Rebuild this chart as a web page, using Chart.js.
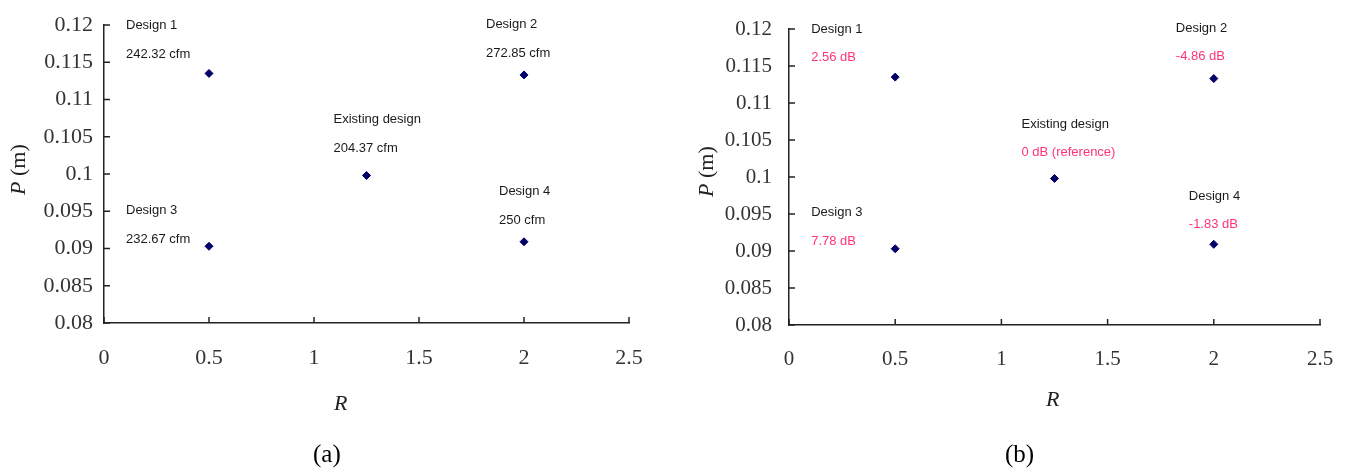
<!DOCTYPE html>
<html><head><meta charset="utf-8">
<script src="https://cdn.jsdelivr.net/npm/chart.js@4/dist/chart.umd.min.js"></script>
<style>
html,body{margin:0;padding:0;background:#fff;}
body{width:1348px;height:473px;position:relative;overflow:hidden;}
.box{position:absolute;top:0;height:473px;}
.t{position:absolute;font-family:"Liberation Serif",serif;color:#222;white-space:nowrap;}
</style></head><body>
<div class="box" style="left:0;width:660px"><canvas id="ca"></canvas></div>
<div class="box" style="left:680px;width:668px"><canvas id="cb"></canvas></div>
<div class="t" style="left:5px;top:195px;font-size:22px;transform:rotate(-90deg);transform-origin:0 0;"><i>P</i> (m)</div>
<div class="t" style="left:693px;top:197px;font-size:22px;transform:rotate(-90deg);transform-origin:0 0;"><i>P</i> (m)</div>
<div class="t" style="left:334px;top:390px;font-size:22px;"><i>R</i></div>
<div class="t" style="left:1046px;top:386px;font-size:22px;"><i>R</i></div>
<div class="t" style="left:313px;top:440px;font-size:25px;color:#000;">(a)</div>
<div class="t" style="left:1005px;top:440px;font-size:25px;color:#000;">(b)</div>
<script>
// ---- data ----
const designNames = ['Design 1', 'Design 2', 'Existing design', 'Design 3', 'Design 4'];
const rValues = [0.5, 2, 1.25, 0.5, 2];
const pValues = [0.1135, 0.1133, 0.0998, 0.0903, 0.0909];
const flowLabels = ['242.32 cfm', '272.85 cfm', '204.37 cfm', '232.67 cfm', '250 cfm'];
const noiseLabels = ['2.56 dB', '-4.86 dB', '0 dB (reference)', '7.78 dB', '-1.83 dB'];
const xTickValues = [0, 0.5, 1, 1.5, 2, 2.5];
const yTickValues = [0.08, 0.085, 0.09, 0.095, 0.1, 0.105, 0.11, 0.115, 0.12];

// label placement offsets relative to each point (pixels): [dx of left edge, dy line1, dy line2]
const offsA = [[-83,-48,-19],[-38,-50,-21],[-33,-56,-27],[-83,-36,-7],[-25,-50,-21]];
const offsB = [[-84,-48,-20],[-38,-50,-22],[-33,-54,-26],[-84,-36,-7],[-25,-48,-20]];

const fmt = v => String(parseFloat(Number(v).toFixed(3)));

function labelPlugin(values, valueColor, offs){
  return {
    id:'lbl',
    afterDatasetsDraw(chart){
      const ctx = chart.ctx;
      const meta = chart.getDatasetMeta(0);
      ctx.save();
      ctx.font = '13px "Liberation Sans", Arial, sans-serif';
      ctx.textAlign = 'left';
      ctx.textBaseline = 'middle';
      meta.data.forEach((pt, i) => {
        const o = offs[i];
        ctx.fillStyle = '#1a1a1a';
        ctx.fillText(designNames[i], pt.x + o[0], pt.y + o[1]);
        ctx.fillStyle = valueColor;
        ctx.fillText(values[i], pt.x + o[0], pt.y + o[2]);
      });
      ctx.restore();
    }
  };
}

const innerTicks = {
  id:'innerTicks',
  afterDraw(chart){
    const ctx = chart.ctx, a = chart.chartArea;
    const xs = chart.scales.x, ys = chart.scales.y;
    ctx.save();
    ctx.strokeStyle = '#222';
    ctx.lineWidth = 1.5;
    ctx.beginPath();
    xs.ticks.forEach(t => { const px = xs.getPixelForValue(t.value); ctx.moveTo(px, a.bottom); ctx.lineTo(px, a.bottom - 6); });
    ys.ticks.forEach(t => { const py = ys.getPixelForValue(t.value); ctx.moveTo(a.left, py); ctx.lineTo(a.left + 6, py); });
    ctx.stroke();
    ctx.restore();
  }
};

function makeChart(id, values, valueColor, offs, yw, xh, pad, fontPx, yPad){
  const pts = rValues.map((r, i) => ({x: r, y: pValues[i]}));
  return new Chart(document.getElementById(id), {
    type:'scatter',
    data:{datasets:[{data: pts, pointStyle:'rectRot', pointRadius:4, pointHoverRadius:4,
      backgroundColor:'#000066', borderColor:'#000066', borderWidth:1}]},
    options:{
      responsive:true, maintainAspectRatio:false, animation:false,
      layout:{padding:pad},
      plugins:{legend:{display:false}, tooltip:{enabled:false}},
      scales:{
        x:{type:'linear', min:0, max:2.5,
          afterBuildTicks: s => { s.ticks = xTickValues.map(v => ({value:v})); },
          afterFit: s => { s.height = xh; s.paddingLeft = 0; s.paddingRight = 0; },
          grid:{display:true, drawOnChartArea:false, drawTicks:false},
          border:{display:true, color:'#222', width:1.5},
          ticks:{padding:22, color:'#333', font:{family:'"Liberation Serif", serif', size:fontPx}, callback: v => fmt(v), maxRotation:0, autoSkip:false}
        },
        y:{type:'linear', min:0.08, max:0.12,
          afterBuildTicks: s => { s.ticks = yTickValues.map(v => ({value:v})); },
          afterFit: s => { s.width = yw; s.paddingTop = 0; s.paddingBottom = 0; },
          grid:{display:true, drawOnChartArea:false, drawTicks:false},
          border:{display:true, color:'#222', width:1.5},
          ticks:{padding:yPad, color:'#333', font:{family:'"Liberation Serif", serif', size:fontPx}, callback: v => fmt(v), autoSkip:false}
        }
      }
    },
    plugins:[innerTicks, labelPlugin(values, valueColor, offs)]
  });
}

makeChart('ca', flowLabels, '#1a1a1a', offsA, 104, 150, {top:25, right:31, bottom:0, left:0}, 22, 11);
makeChart('cb', noiseLabels, '#ff3377', offsB, 109, 148, {top:29, right:28, bottom:0, left:0}, 21, 17);
</script>
</body></html>
